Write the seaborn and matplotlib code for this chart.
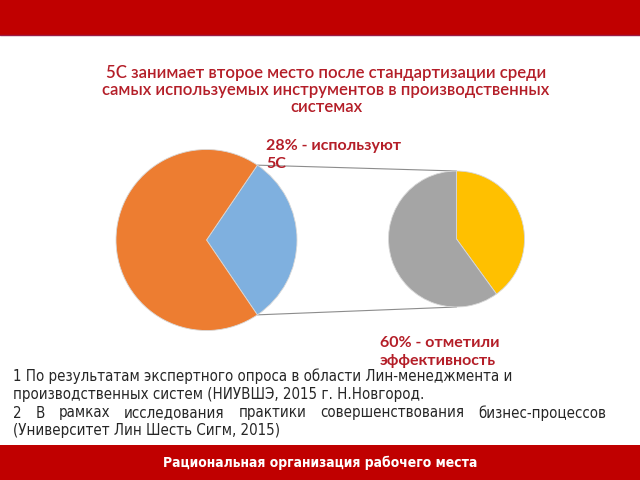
import matplotlib
matplotlib.use("Agg")
import matplotlib.pyplot as plt
import seaborn as sns
import numpy as np
from matplotlib.patches import Rectangle

# ---- data ----
left_labels = ["Используют 5С", "Не используют"]
left_values = [31, 69]
right_labels = ["Не отметили", "Отметили эффективность"]
right_values = [40, 60]

title_lines = ["5С занимает второе место после стандартизации среди",
               "самых используемых инструментов в производственных",
               "системах"]
label_left = ["28% - используют", "5С"]
label_right = ["60% - отметили", "эффективность"]
foot_lines = ["1 По результатам экспертного опроса в области Лин-менеджмента и",
              "производственных систем (НИУВШЭ, 2015 г. Н.Новгород.",
              "2 В рамках исследования практики совершенствования бизнес-процессов",
              "(Университет Лин Шесть Сигм, 2015)"]
bottom_text = "Рациональная организация рабочего места"

sns.set_theme(style="white")
plt.rcParams['font.family'] = ['Lato', 'DejaVu Sans']

W, H = 640, 480
fig = plt.figure(figsize=(6.4, 4.8), dpi=100)
fig.patch.set_facecolor("white")
ax0 = fig.add_axes([0, 0, 1, 1])
ax0.set_xlim(0, W)
ax0.set_ylim(H, 0)
ax0.axis("off")

RED = "#C00000"
TXT = "#B41E28"
left_colors = ["#7FB0DF", "#ED7D31"]
right_colors = ["#FFC000", "#A5A5A5"]
narrow = ['DejaVu Sans']

# bars
ax0.add_patch(Rectangle((0, 0), W, 35, facecolor=RED, edgecolor="none"))
ax0.plot([0, W], [35, 35], color="#9B1B45", lw=1)
ax0.add_patch(Rectangle((0, 445), W, 35, facecolor=RED, edgecolor="none"))
ax0.text(320, 463, bottom_text, color="white", fontsize=10, fontweight="bold",
         fontstretch="condensed", ha="center", va="center", family=narrow)

# title
for i, line in enumerate(title_lines):
    ax0.text(326, 73 + i * 17, line, color=TXT, fontsize=12.1, fontweight="semibold",
             ha="center", va="center")

# pies
def pie_axes(cx, cy, r):
    return fig.add_axes([(cx - r) / W, (H - cy - r) / H, 2 * r / W, 2 * r / H])

lcx, lcy, lr = 206.5, 240, 90.5
rcx, rcy, rr = 456.5, 239, 68
axl = pie_axes(lcx, lcy, lr)
half = left_values[0] / sum(left_values) * 180
axl.pie(left_values, colors=left_colors, startangle=-half, counterclock=True,
        wedgeprops=dict(linewidth=0.6, edgecolor="#d8d8d8"))
axl.set_xlim(-1, 1); axl.set_ylim(-1, 1)
axr = pie_axes(rcx, rcy, rr)
axr.pie(right_values, colors=right_colors, startangle=90, counterclock=False,
        wedgeprops=dict(linewidth=0.6, edgecolor="#d8d8d8"))
axr.set_xlim(-1, 1); axr.set_ylim(-1, 1)

# connector lines: from edges of the blue wedge to top/bottom of right pie
a = np.deg2rad(half)
p_top = (lcx + lr * np.cos(a), lcy - lr * np.sin(a))
p_bot = (lcx + lr * np.cos(a), lcy + lr * np.sin(a))
ax0.plot([p_top[0], rcx], [p_top[1], rcy - rr], color="#8c8c8c", lw=0.8, zorder=1)
ax0.plot([p_bot[0], rcx], [p_bot[1], rcy + rr], color="#8c8c8c", lw=0.8, zorder=1)

# annotations
for i, line in enumerate(label_left):
    ax0.text(266, 146 + i * 18, line, color=TXT, fontsize=11.5, fontweight="bold",
             ha="left", va="center", zorder=5)
for i, line in enumerate(label_right):
    ax0.text(380, 343 + i * 18, line, color=TXT, fontsize=11.5, fontweight="bold",
             ha="left", va="center", zorder=5)

# footnotes
fsz = 10.8
ys = [376, 395, 413, 431]
renderer = fig.canvas.get_renderer()
for i, line in enumerate(foot_lines):
    if i == 2:
        words = line.split(" ")
        texts = [ax0.text(0, ys[i], w, fontsize=fsz, family=narrow, fontstretch="condensed",
                          color="#262626", ha="left", va="center") for w in words]
        widths = [t.get_window_extent(renderer).width for t in texts]
        x0, x1 = 13, 606
        gap = (x1 - x0 - sum(widths)) / (len(words) - 1)
        x = x0
        for t, w in zip(texts, widths):
            t.set_x(x)
            x += w + gap
    else:
        ax0.text(13, ys[i], line, fontsize=fsz, family=narrow, fontstretch="condensed",
                 color="#262626", ha="left", va="center")

fig.savefig("out.png", dpi=100)
